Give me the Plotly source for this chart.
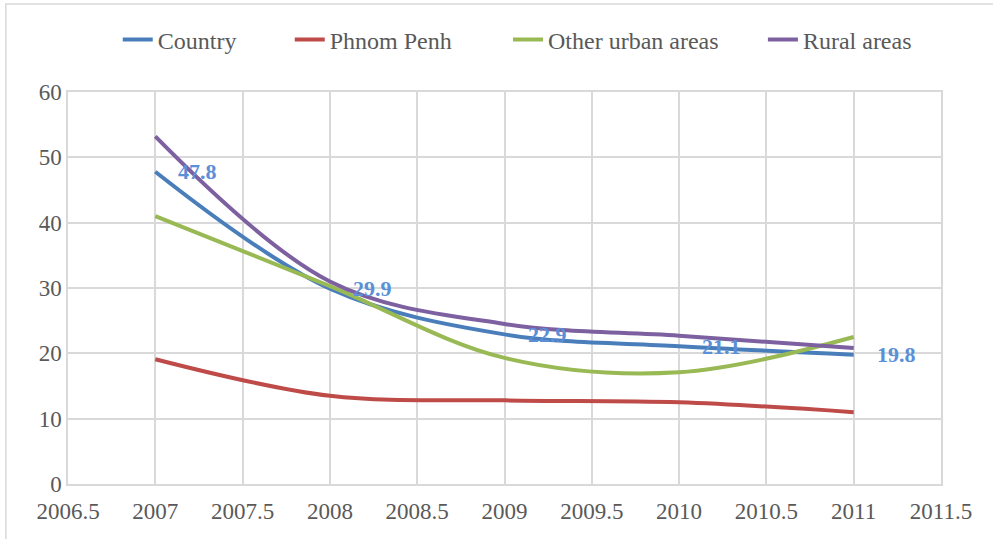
import plotly.graph_objects as go

years = [2007, 2008, 2009, 2010, 2011]
country = [47.8, 29.9, 22.9, 21.1, 19.8]
phnom_penh = [19.1, 13.5, 12.8, 12.5, 11.0]
other_urban = [41.0, 30.3, 19.3, 17.1, 22.5]
rural = [53.2, 31.0, 24.5, 22.7, 20.8]

x_ticks = [2006.5, 2007, 2007.5, 2008, 2008.5, 2009, 2009.5, 2010, 2010.5, 2011, 2011.5]
y_ticks = [0, 10, 20, 30, 40, 50, 60]

series = [
    ("Country", country, "#4A7EBB"),
    ("Phnom Penh", phnom_penh, "#BE4B48"),
    ("Other urban areas", other_urban, "#98B954"),
    ("Rural areas", rural, "#7D60A0"),
]
legend_ids = ["legend", "legend2", "legend3", "legend4"]
legend_x = [0.057, 0.254, 0.504, 0.796]

FONT = "Liberation Serif, Times New Roman, serif"

fig = go.Figure()
for (name, vals, col), lid in zip(series, legend_ids):
    fig.add_trace(go.Scatter(
        x=years, y=vals, name=name, mode="lines", legend=lid,
        line=dict(color=col, width=4, shape="spline", smoothing=1),
    ))

for xv, yv in zip(years, country):
    fig.add_annotation(
        x=xv, y=yv, text=f"{yv:.1f}", showarrow=False,
        xanchor="left", yanchor="middle", xshift=21,
        font=dict(family=FONT, size=22, color="#5B8FD8", weight="bold"),
    )

fig.add_shape(type="rect", xref="paper", yref="paper",
              x0=-0.0712, x1=1.07, y0=-0.16, y1=1.2245,
              line=dict(color="#D9D9D9", width=1.5), fillcolor="rgba(0,0,0,0)", layer="below")

legend_common = dict(orientation="h", xanchor="left", y=1.133, yanchor="middle",
                     font=dict(family=FONT, size=24, color="#595959"),
                     bgcolor="rgba(0,0,0,0)")
layout_legends = {}
for lid, lx in zip(legend_ids, legend_x):
    layout_legends[lid] = dict(x=lx, **legend_common)

fig.update_layout(
    width=993, height=539,
    margin=dict(l=68, r=52, t=92, b=55),
    paper_bgcolor="white", plot_bgcolor="white",
    font=dict(family=FONT, color="#595959", size=23),
    xaxis=dict(range=[2006.5, 2011.5], tickvals=x_ticks, ticktext=[str(v) for v in x_ticks],
               showgrid=True, gridcolor="#D9D9D9", gridwidth=1.5,
               showline=True, linecolor="#D9D9D9", linewidth=1.5, mirror=True,
               zeroline=False, ticks="", automargin=False, ticklabelstandoff=6,
               tickfont=dict(family=FONT, size=23, color="#595959")),
    yaxis=dict(range=[0, 60], tickvals=y_ticks, showgrid=True, gridcolor="#D9D9D9", gridwidth=1.5,
               showline=True, linecolor="#D9D9D9", linewidth=1.5, mirror=True,
               zeroline=False, ticks="", automargin=False,
               tickfont=dict(family=FONT, size=23, color="#595959")),
    showlegend=True,
    **layout_legends,
)

fig.write_html("out.html", config={"displayModeBar": False},
               post_script="document.body.style.margin='0';document.body.style.padding='0';")
